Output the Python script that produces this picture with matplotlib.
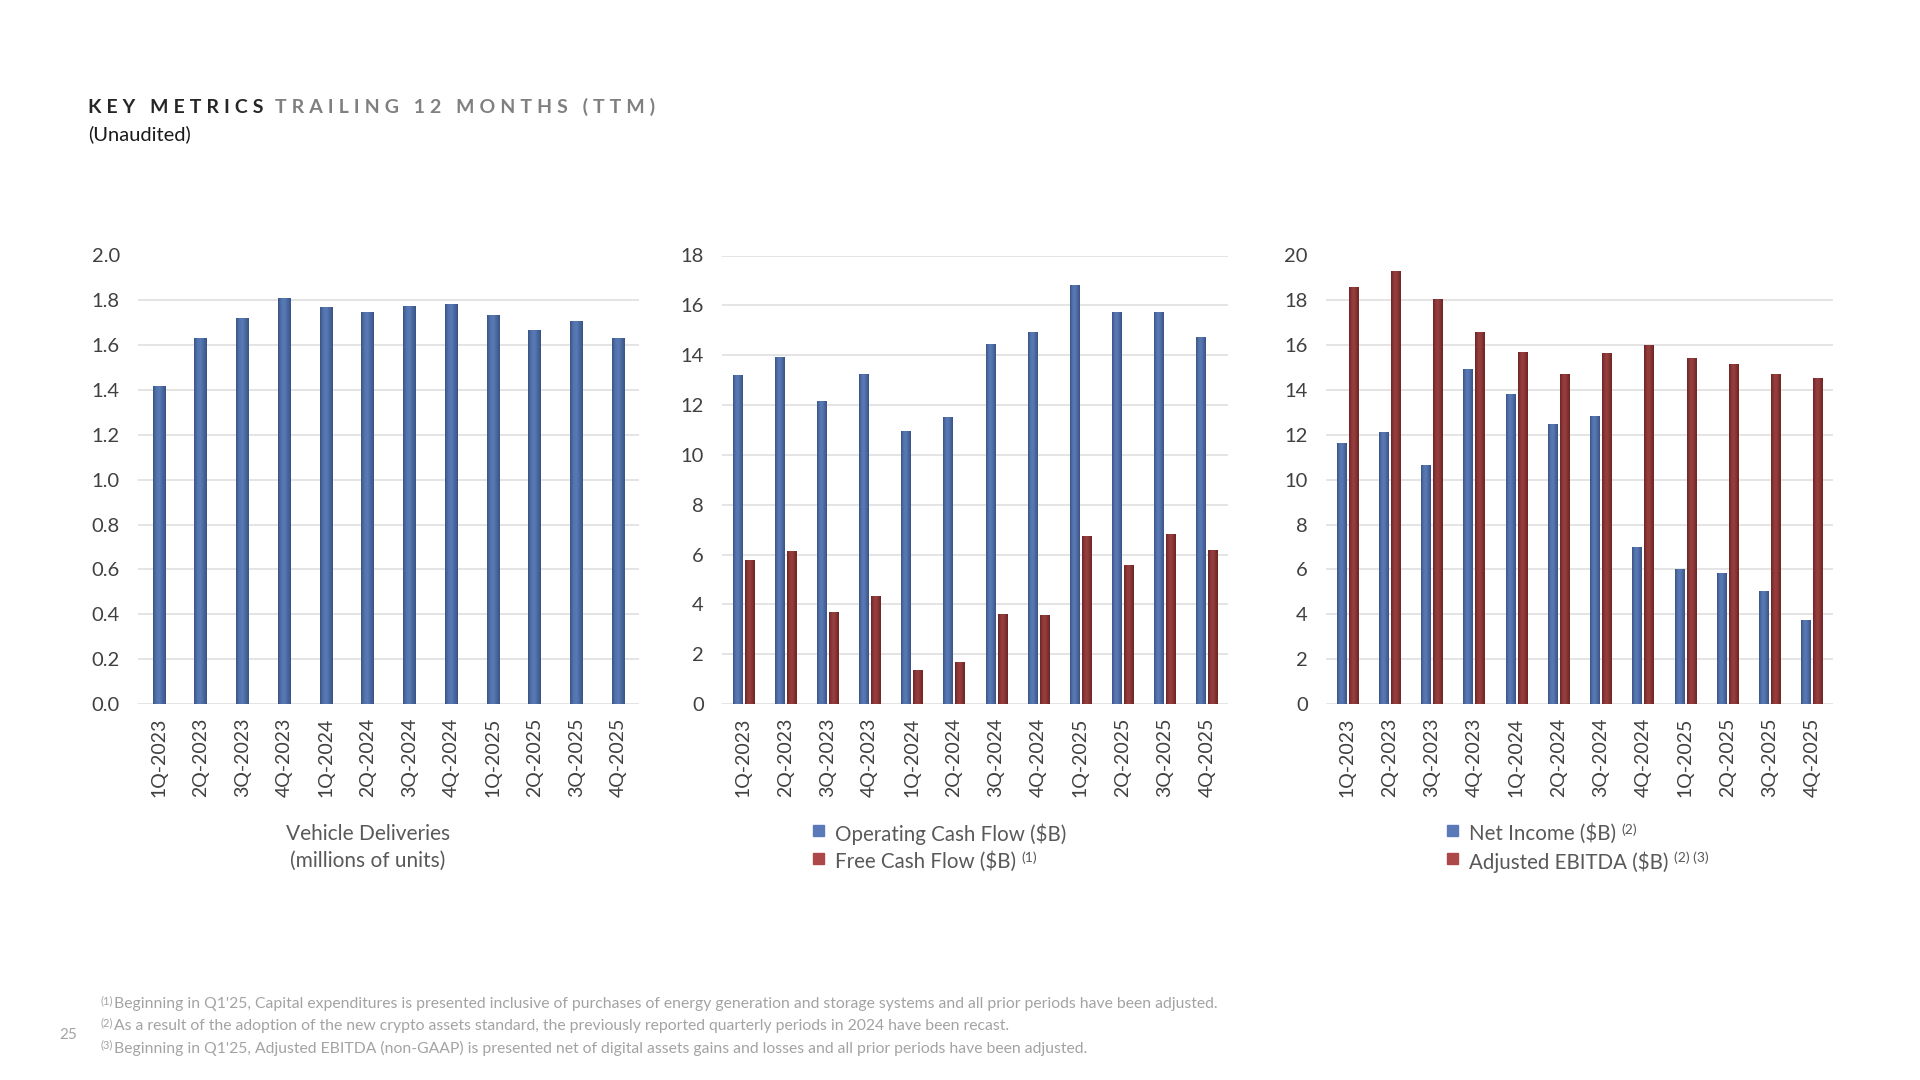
import numpy as np
import matplotlib
matplotlib.use('Agg')
import matplotlib.pyplot as plt
from matplotlib.colors import LinearSegmentedColormap

# ---------------- data ----------------
quarters = ['1Q-2023', '2Q-2023', '3Q-2023', '4Q-2023',
            '1Q-2024', '2Q-2024', '3Q-2024', '4Q-2024',
            '1Q-2025', '2Q-2025', '3Q-2025', '4Q-2025']
deliveries = [1.42, 1.63, 1.72, 1.81, 1.77, 1.75, 1.775, 1.785, 1.735, 1.67, 1.71, 1.63]
operating_cf = [13.22, 13.93, 12.15, 13.24, 10.96, 11.51, 14.46, 14.92, 16.82, 15.74, 15.72, 14.72]
free_cf = [5.76, 6.15, 3.69, 4.32, 1.36, 1.69, 3.60, 3.56, 6.75, 5.57, 6.81, 6.20]
net_income = [11.65, 12.11, 10.67, 14.93, 13.82, 12.50, 12.84, 7.02, 6.04, 5.82, 5.02, 3.73]
adj_ebitda = [18.60, 19.30, 18.06, 16.57, 15.69, 14.71, 15.63, 16.00, 15.42, 15.16, 14.71, 14.53]

title_main = 'KEY METRICS'
title_sub = 'TRAILING 12 MONTHS (TTM)'
subtitle = '(Unaudited)'
footnotes = [
    ('(1)', "Beginning in Q1'25, Capital expenditures is presented inclusive of purchases of energy generation and storage systems and all prior periods have been adjusted."),
    ('(2)', "As a result of the adoption of the new crypto assets standard, the previously reported quarterly periods in 2024 have been recast."),
    ('(3)', "Beginning in Q1'25, Adjusted EBITDA (non-GAAP) is presented net of digital assets gains and losses and all prior periods have been adjusted."),
]

# ---------------- style ----------------
plt.rcParams['font.family'] = ['Lato', 'DejaVu Sans']
BLUE = '#4b6aa3'
RED = '#8a3636'
BLUE_LEG = '#5a79b8'
RED_LEG = '#ad4848'
TICK_C = '#404040'
TEXT_C = '#595959'
GRID_C = '#dcdcdc'

cmap_blue = LinearSegmentedColormap.from_list('bl', ['#3a5283', '#5273ad', '#5a7ab5', '#4a68a0', '#3a5283'])
cmap_red = LinearSegmentedColormap.from_list('rd', ['#6a2424', '#8e3838', '#984040', '#853232', '#6a2424'])
grad = np.linspace(0, 1, 64).reshape(1, -1)

W, H = 1920, 1080
fig = plt.figure(figsize=(W / 100, H / 100), dpi=100)
fig.patch.set_facecolor('white')

# background axes in pixel coordinates for annotations
bg = fig.add_axes([0, 0, 1, 1])
bg.set_xlim(0, W)
bg.set_ylim(H, 0)
bg.axis('off')

AX_TOP, AX_BOT = 255.5, 704.0


def make_ax(x0, x1):
    return fig.add_axes([x0 / W, 1 - AX_BOT / H, (x1 - x0) / W, (AX_BOT - AX_TOP) / H])


def shade(ax, bars, cmap):
    for b in bars:
        x, y, w, h = b.get_x(), b.get_y(), b.get_width(), b.get_height()
        im = ax.imshow(grad, extent=[x, x + w, y, y + h], cmap=cmap, aspect='auto',
                       interpolation='bicubic', zorder=b.get_zorder() + 0.1)
        im.set_clip_path(b)


def style(ax, ymax, step, fmt):
    ax.set_xlim(-0.5, 11.5)
    ax.set_ylim(0, ymax)
    ax.set_yticks(np.arange(0, ymax + step / 2, step))
    ax.set_yticklabels([fmt.format(v) for v in np.arange(0, ymax + step / 2, step)])
    ax.set_xticks(range(len(quarters)))
    ax.set_xticklabels(quarters, rotation=90)
    ax.grid(axis='y', color=GRID_C, lw=1.1)
    ax.set_axisbelow(True)
    for s in ax.spines.values():
        s.set_visible(False)
    ax.tick_params(axis='y', length=0, pad=13, labelsize=14.5, labelcolor=TICK_C)
    ax.tick_params(axis='x', length=0, pad=10, labelsize=14, labelcolor=TICK_C)
    ax.set_facecolor('none')


x = np.arange(len(quarters))

# chart 1
ax1 = make_ax(138, 639)
b1 = ax1.bar(x, deliveries, width=0.3, color=BLUE, zorder=2)
shade(ax1, b1, cmap_blue)
style(ax1, 2.0, 0.2, '{:.1f}')

# chart 2
ax2 = make_ax(722, 1228)
b2a = ax2.bar(x - 0.142, operating_cf, width=0.215, color=BLUE, zorder=2)
b2b = ax2.bar(x + 0.142, free_cf, width=0.215, color=RED, zorder=2)
shade(ax2, b2a, cmap_blue)
shade(ax2, b2b, cmap_red)
style(ax2, 18, 2, '{:.0f}')

# chart 3
ax3 = make_ax(1326, 1833)
b3a = ax3.bar(x - 0.142, net_income, width=0.215, color=BLUE, zorder=2)
b3b = ax3.bar(x + 0.142, adj_ebitda, width=0.215, color=RED, zorder=2)
shade(ax3, b3a, cmap_blue)
shade(ax3, b3b, cmap_red)
style(ax3, 20, 2, '{:.0f}')

# ---------------- title ----------------
GAP = '\u2009\u200a\u200a'


def spaced(s):
    return GAP.join(s)


t1 = bg.text(88, 113, spaced(title_main), fontsize=14, fontweight='bold', color='#262626',
             ha='left', va='baseline')
bg.annotate(spaced(title_sub), xy=(1, 0), xycoords=t1, xytext=(8, 0), textcoords='offset points',
            ha='left', va='bottom', fontsize=14, fontweight='bold', color='#808080')
bg.text(88, 134, subtitle, fontsize=14.5, color='#1a1a1a', ha='left', va='center')

# ---------------- captions / legends ----------------
bg.text(368, 834, 'Vehicle Deliveries', fontsize=15, color=TEXT_C, ha='center', va='center')
bg.text(368, 861, '(millions of units)', fontsize=15, color=TEXT_C, ha='center', va='center')


def legend_row(xsq, xtxt, y, color, label, sup=None):
    bg.add_patch(plt.Rectangle((xsq, y - 9), 11, 11, color=color, transform=bg.transData))
    t = bg.text(xtxt, y, label, fontsize=14.8, color=TEXT_C, ha='left', va='center')
    if sup:
        bg.annotate(sup, xy=(1, 1), xycoords=t, xytext=(4, 0), textcoords='offset points',
                    ha='left', va='top', fontsize=10, color=TEXT_C)
    return t


legend_row(813, 835, 834, BLUE_LEG, 'Operating Cash Flow ($B)')
legend_row(813, 835, 862, RED_LEG, 'Free Cash Flow ($B)', '(1)')
legend_row(1447, 1469, 834, BLUE_LEG, 'Net Income ($B)', '(2)')
legend_row(1447, 1469, 862, RED_LEG, 'Adjusted EBITDA ($B)', '(2) (3)')

# ---------------- footnotes ----------------
FN_C = '#a3a3a3'
for i, (sup, txt) in enumerate(footnotes):
    y = 1004 + 22 * i
    m = bg.text(114, y, txt, fontsize=11.3, color=FN_C, ha='left', va='center')
    bg.annotate(sup, xy=(0, 1), xycoords=m, xytext=(-1, 1), textcoords='offset points',
                ha='right', va='top', fontsize=8, color=FN_C)

bg.text(59, 1035, '25', fontsize=11, color=FN_C, ha='left', va='center')

fig.savefig('out.png', dpi=100, facecolor='white')
